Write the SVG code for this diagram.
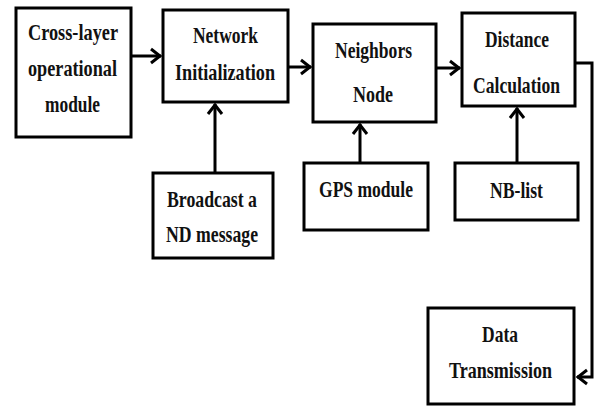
<svg xmlns="http://www.w3.org/2000/svg" width="595" height="406" viewBox="0 0 595 406">
<defs>
<style>
.box{fill:#fff;stroke:#000;stroke-width:3}
.t{font-family:"Liberation Serif","Times New Roman",serif;font-weight:bold;font-size:24px;fill:#111;text-anchor:middle}
.c{fill:none;stroke:#000;stroke-width:3}
</style>
<marker id="ah" markerUnits="userSpaceOnUse" markerWidth="14" markerHeight="18" viewBox="0 0 14 18" refX="12" refY="9" orient="auto">
<path d="M2,2 L11,9 L2,16" fill="none" stroke="#000" stroke-width="3"/>
</marker>
</defs>
<rect width="595" height="406" fill="#fff"/>
<g id="connectors">
<path class="c" d="M131,56 H161" marker-end="url(#ah)"/>
<path class="c" d="M289,67 H311" marker-end="url(#ah)"/>
<path class="c" d="M437,68 H460" marker-end="url(#ah)"/>
<path class="c" d="M215,173 V104" marker-end="url(#ah)"/>
<path class="c" d="M360,163 V124" marker-end="url(#ah)"/>
<path class="c" d="M517,163 V108" marker-end="url(#ah)"/>
<path class="c" d="M575,63 H592 V377 H577" marker-end="url(#ah)"/>
</g>
<g id="cross-layer">
<rect class="box" x="16" y="8" width="115" height="129"/>
<text class="t" x="73" y="40" textLength="90" lengthAdjust="spacingAndGlyphs">Cross-layer</text>
<text class="t" x="72.5" y="76" textLength="89" lengthAdjust="spacingAndGlyphs">operational</text>
<text class="t" x="72.5" y="112" textLength="55" lengthAdjust="spacingAndGlyphs">module</text>
</g>
<g id="network-init">
<rect class="box" x="163" y="10" width="125" height="92"/>
<text class="t" x="225.5" y="43" textLength="65" lengthAdjust="spacingAndGlyphs">Network</text>
<text class="t" x="225" y="80" textLength="100" lengthAdjust="spacingAndGlyphs">Initialization</text>
</g>
<g id="neighbors-node">
<rect class="box" x="313" y="24" width="123" height="98"/>
<text class="t" x="373.5" y="58" textLength="77" lengthAdjust="spacingAndGlyphs">Neighbors</text>
<text class="t" x="373" y="102" textLength="40" lengthAdjust="spacingAndGlyphs">Node</text>
</g>
<g id="distance-calc">
<rect class="box" x="462" y="13" width="113" height="93"/>
<text class="t" x="517" y="47" textLength="64" lengthAdjust="spacingAndGlyphs">Distance</text>
<text class="t" x="516.5" y="93" textLength="87" lengthAdjust="spacingAndGlyphs">Calculation</text>
</g>
<g id="broadcast">
<rect class="box" x="153" y="173" width="120" height="85"/>
<text class="t" x="212" y="207" textLength="90" lengthAdjust="spacingAndGlyphs">Broadcast a</text>
<text class="t" x="212" y="242" textLength="92" lengthAdjust="spacingAndGlyphs">ND message</text>
</g>
<g id="gps">
<rect class="box" x="304" y="163" width="124" height="67"/>
<text class="t" x="366" y="197" textLength="94" lengthAdjust="spacingAndGlyphs">GPS module</text>
</g>
<g id="nb-list">
<rect class="box" x="455" y="163" width="123" height="57"/>
<text class="t" x="516.5" y="198" textLength="53" lengthAdjust="spacingAndGlyphs">NB-list</text>
</g>
<g id="data-transmission">
<rect class="box" x="428" y="308" width="146" height="96"/>
<text class="t" x="500" y="342" textLength="36" lengthAdjust="spacingAndGlyphs">Data</text>
<text class="t" x="500.5" y="378" textLength="103" lengthAdjust="spacingAndGlyphs">Transmission</text>
</g>
</svg>
